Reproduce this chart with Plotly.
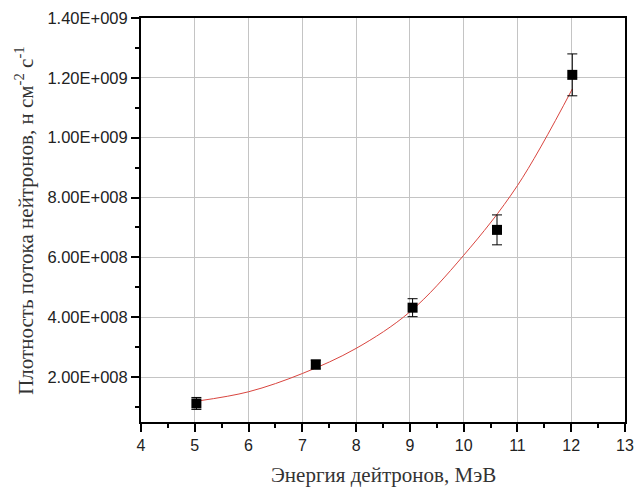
import plotly.graph_objects as go

# Data points
energy = [5.03, 7.25, 9.05, 10.62, 12.02]
flux = [1.12e8, 2.42e8, 4.32e8, 6.92e8, 12.1e8]
flux_err = [0.2e8, 0.15e8, 0.3e8, 0.5e8, 0.7e8]

# Fitted curve
fit_x = [5.05, 6, 7, 8, 9, 10, 11, 12.02]
fit_y = [1.2e8, 1.51e8, 2.12e8, 2.96e8, 4.18e8, 6.07e8, 8.4e8, 11.63e8]

# Ticks
x_ticks = [4, 5, 6, 7, 8, 9, 10, 11, 12, 13]
y_tickvals = [2e8, 4e8, 6e8, 8e8, 10e8, 12e8, 14e8]
y_ticktext = ["2.00E+008", "4.00E+008", "6.00E+008", "8.00E+008",
              "1.00E+009", "1.20E+009", "1.40E+009"]
y_minor = [1e8, 3e8, 5e8, 7e8, 9e8, 11e8, 13e8]

fig = go.Figure()
fig.add_trace(go.Scatter(
    x=fit_x, y=fit_y, mode="lines", line_shape="spline",
    line=dict(color="#d9453f", width=1), showlegend=False, hoverinfo="skip"))
fig.add_trace(go.Scatter(
    x=energy, y=flux, mode="markers",
    marker=dict(symbol="square", size=10, color="black"),
    error_y=dict(type="data", array=flux_err, color="black", thickness=1, width=5),
    showlegend=False))

axis_common = dict(
    showline=True, linecolor="black", linewidth=2, mirror=True,
    ticks="outside", ticklen=8, tickwidth=1.5, tickcolor="black",
    showgrid=True, gridcolor="#c4c4c4", gridwidth=1, zeroline=False,
)

fig.update_xaxes(range=[4, 13], tickmode="array", tickvals=x_ticks,
                 tickfont=dict(family="Liberation Sans, Arial", size=16, color="#222"),
                 minor=dict(dtick=0.5, tick0=4, ticks="outside", ticklen=4,
                            tickcolor="black", showgrid=False),
                 **axis_common)
fig.update_yaxes(range=[0.5e8, 14e8], tickmode="array", tickvals=y_tickvals,
                 ticktext=y_ticktext,
                 tickfont=dict(family="Liberation Sans, Arial", size=16.5, color="#222"),
                 minor=dict(tickmode="array", tickvals=y_minor, ticks="outside",
                            ticklen=4, tickcolor="black", showgrid=False),
                 **axis_common)

fig.add_annotation(text="Энергия дейтронов, МэВ", xref="paper", yref="paper",
                   x=0.5, y=-0.13, yanchor="middle", xanchor="center",
                   showarrow=False,
                   font=dict(family="Liberation Serif, Times New Roman", size=21, color="#333"))
fig.add_annotation(text="Плотность потока нейтронов, н см<sup>-2</sup> с<sup>-1</sup>",
                   xref="paper", yref="paper", x=-0.242, y=0.5,
                   xanchor="center", yanchor="middle", textangle=-90,
                   showarrow=False,
                   font=dict(family="Liberation Serif, Times New Roman", size=21, color="#333"))

fig.update_layout(
    width=643, height=488,
    margin=dict(l=141, r=9, t=17, b=66),
    plot_bgcolor="white", paper_bgcolor="white",
)

fig.write_html("out.html")
